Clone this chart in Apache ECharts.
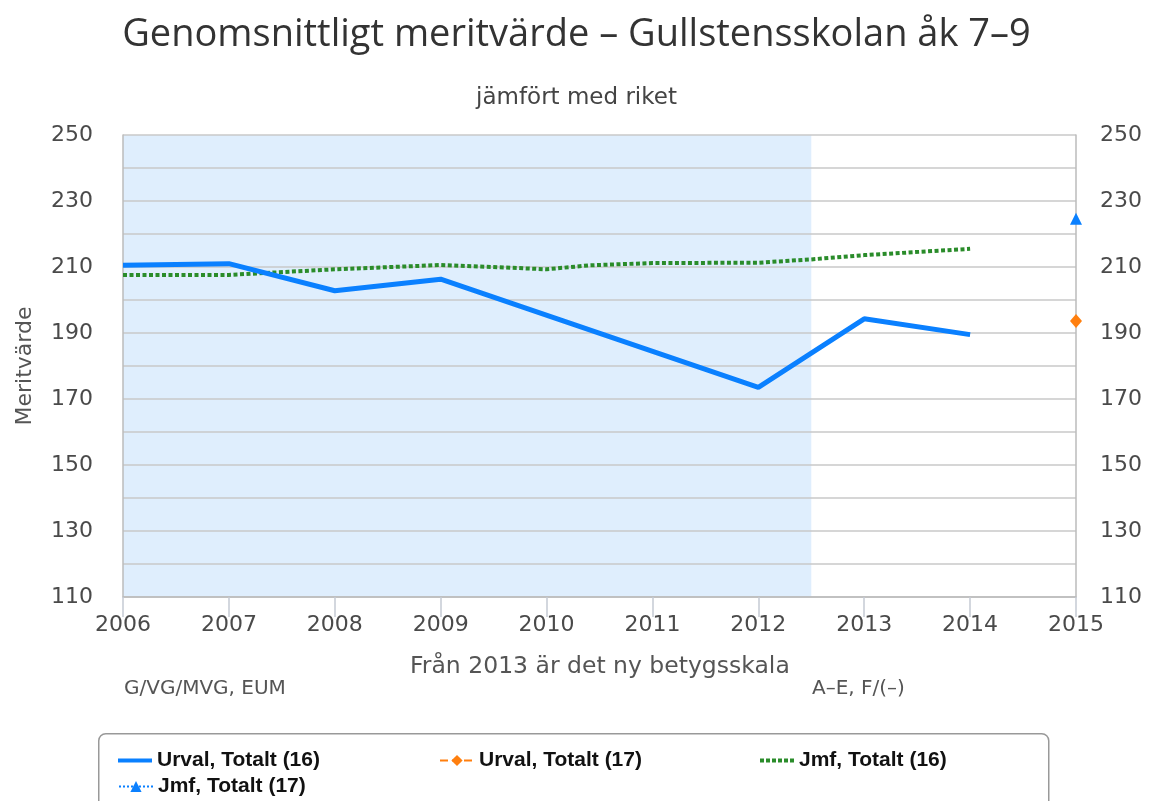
<!DOCTYPE html>
<html>
<head>
<meta charset="utf-8">
<script src="https://cdn.jsdelivr.net/npm/echarts@6/dist/echarts.min.js"></script>
<style>
  html, body { margin:0; padding:0; background:#fff; }
  #main { width:1153px; height:801px; }
</style>
</head>
<body>
<div id="main"></div>
<script>
// värden
var urval16 = [[2006, 210.5], [2007, 211], [2008, 202.8], [2009, 206.3], [2012, 173.5], [2013, 194.3], [2014, 189.5]];
var urval17 = [[2015, 193.6]];
var jmf16 = [[2006, 207.6], [2007, 207.6], [2008, 209.3], [2009, 210.6], [2009.5, 210], [2010, 209.3],
             [2010.4, 210.5], [2011, 211.2], [2012, 211.3], [2012.5, 212.3], [2013, 213.6], [2014, 215.5]];
var jmf17 = [[2015, 224.6]];
var seriesNames = ['Urval, Totalt (16)', 'Urval, Totalt (17)', 'Jmf, Totalt (16)', 'Jmf, Totalt (17)'];
var oldScale = [2006, 2012.5];  // gammal betygsskala (skuggat)

var chart = echarts.init(document.getElementById('main'));
var sans = 'DejaVu Sans';

function every20(v){
	return (v - 110) % 20 === 0 ? v : '';
}

//legendikoner
var dots = 'path://M0,0h4v4h-4z M6,0h4v4h-4z M12,0h4v4h-4z M18,0h4v4h-4z M24,0h4v4h-4z M30,0h4v4h-4z';

var legendBase = {
	itemWidth: 34,
	itemHeight: 14,
	textStyle: { fontFamily: 'Liberation Sans', fontWeight: 'bold', fontSize: 21, color: '#111' }
};

var option = {
	animation: false,
	title: [
		{ text: 'Genomsnittligt meritvärde – Gullstensskolan åk 7–9', left: 'center', top: 11,
		  textStyle: { fontFamily: 'Open Sans', fontWeight: 'normal', fontSize: 38, color: '#333' } },
		{ text: 'jämfört med riket', left: 'center', top: 82,
		  textStyle: { fontFamily: sans, fontWeight: 'normal', fontSize: 23, color: '#444' } }
	],
	legend: [
		Object.assign({}, legendBase, { data: [{ name: seriesNames[0], icon: 'rect' }], left: 113, top: 745, itemHeight: 4 }),
		Object.assign({}, legendBase, { data: [seriesNames[1]], left: 434, top: 745 }),
		Object.assign({}, legendBase, { data: [{ name: seriesNames[2], icon: dots }], left: 755, top: 745, itemHeight: 4 }),
		Object.assign({}, legendBase, { data: [seriesNames[3]], left: 113, top: 771 })
	],
	grid: { left: 123, right: 77, top: 135, bottom: 204 },
	xAxis: {
		type: 'value', min: 2006, max: 2015, interval: 1, z: 3,
		axisLine: { show: true, lineStyle: { color: '#bbb', width: 1.5 } },
		axisTick: { show: true, length: 20, lineStyle: { color: '#c5cad3', width: 1.5 } },
		splitLine: { show: false },
		axisLabel: { margin: 17, fontFamily: sans, fontSize: 22, color: '#4a4a4a',
			formatter: function(v){ return String(v); } }
	},
	yAxis: [
		{
			type: 'value', min: 110, max: 250, interval: 10, z: 3,
			name: 'Meritvärde', nameLocation: 'middle', nameGap: 87, nameRotate: 90,
			nameTextStyle: { fontFamily: sans, fontSize: 22, color: '#555' },
			axisLine: { show: true, lineStyle: { color: '#bbb', width: 1.5 } },
			axisTick: { show: false },
			splitLine: { lineStyle: { color: '#c8c8c8', width: 1.5 } },
			axisLabel: { margin: 30, formatter: every20, fontFamily: sans, fontSize: 22, color: '#4a4a4a' }
		},
		{
			type: 'value', min: 110, max: 250, interval: 10, position: 'right', z: 3,
			axisLine: { show: true, lineStyle: { color: '#bbb', width: 1.5 } },
			axisTick: { show: false },
			splitLine: { show: false },
			axisLabel: { margin: 24, formatter: every20, fontFamily: sans, fontSize: 22, color: '#4a4a4a' }
		}
	],
	series: [
		{
			// bara skuggan
			type: 'line', data: [], z: 1, silent: true,
			markArea: {
				silent: true,
				itemStyle: { color: '#dfeefd' },
				data: [[{ xAxis: oldScale[0] }, { xAxis: oldScale[1] }]]
			}
		},
		{
			name: seriesNames[0], type: 'line', data: urval16, z: 6,
			symbol: 'none', color: '#0a80ff',
			lineStyle: { width: 5, color: '#0a80ff' }
		},
		{
			name: seriesNames[1], type: 'line', data: urval17, z: 7,
			symbol: 'diamond', symbolSize: [12, 14], clip: false, color: '#ff7f0e',
			lineStyle: { width: 3, type: 'dashed', color: '#ff7f0e' }
		},
		{
			name: seriesNames[2], type: 'line', data: jmf16, z: 5,
			symbol: 'none', color: '#2a8c2a',
			lineStyle: { width: 4, type: [4, 2.5], color: '#2a8c2a' }
		},
		{
			name: seriesNames[3], type: 'line', data: jmf17, z: 7,
			symbol: 'triangle', symbolSize: 12, clip: false, color: '#0a80ff',
			lineStyle: { width: 3, type: 'dotted', color: '#0a80ff' }
		}
	],
	graphic: [
		{ type: 'rect', left: 98, top: 733, z: -1,
		  shape: { width: 950, height: 90, r: 7 },
		  style: { fill: '#fff', stroke: '#999', lineWidth: 1.5 } },
		{ type: 'text', left: 410, top: 655,
		  style: { text: 'Från 2013 är det ny betygsskala', font: '23.5px "DejaVu Sans"', fill: '#555' } },
		{ type: 'text', left: 124, top: 679,
		  style: { text: 'G/VG/MVG, EUM', font: '20px "DejaVu Sans"', fill: '#555' } },
		{ type: 'text', left: 812, top: 679,
		  style: { text: 'A–E, F/(–)', font: '20px "DejaVu Sans"', fill: '#555' } }
	]
};
chart.setOption(option);
</script>
</body>
</html>
